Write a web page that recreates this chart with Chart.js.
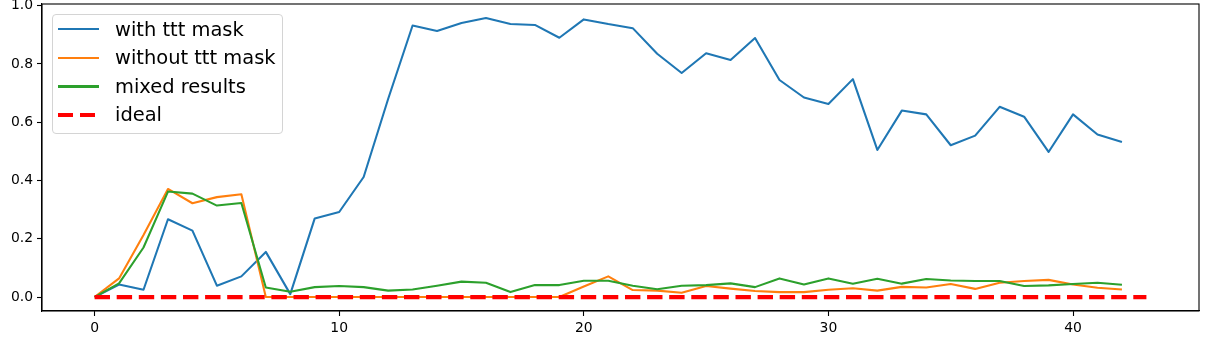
<!DOCTYPE html>
<html><head><meta charset="utf-8">
<script src="https://cdn.jsdelivr.net/npm/chart.js@4/dist/chart.umd.min.js"></script>
<style>
body{margin:0;background:#fff;}
#wrap{position:relative;width:1208px;height:345px;overflow:hidden;}
#c{position:absolute;left:0;top:0;}
#legend{position:absolute;left:52px;top:14px;width:231px;height:120px;border:1px solid #d4d4d4;border-radius:4px;background:rgba(255,255,255,0.8);box-sizing:border-box;}
.sw{position:absolute;left:58px;width:41px;}
.lab{position:absolute;left:115px;font-family:"DejaVu Sans";font-size:19.44px;line-height:19.44px;color:#000;white-space:nowrap;}
</style></head>
<body>
<div id="wrap"><canvas id="c" width="1208" height="345"></canvas><div id="legend"></div></div>
<script>
const steps = [0,1,2,3,4,5,6,7,8,9,10,11,12,13,14,15,16,17,18,19,20,21,22,23,24,25,26,27,28,29,30,31,32,33,34,35,36,37,38,39,40,41,42];
const idealSteps = [0,1,2,3,4,5,6,7,8,9,10,11,12,13,14,15,16,17,18,19,20,21,22,23,24,25,26,27,28,29,30,31,32,33,34,35,36,37,38,39,40,41,42,43];
const withMask = [0,0.043,0.025,0.267,0.228,0.039,0.071,0.155,0.010,0.270,0.292,0.412,0.68,0.932,0.913,0.941,0.958,0.937,0.934,0.890,0.953,0.937,0.923,0.835,0.769,0.837,0.814,0.889,0.745,0.685,0.663,0.748,0.505,0.640,0.627,0.521,0.554,0.653,0.619,0.498,0.627,0.558,0.532];
const withoutMask = [0,0.064,0.213,0.371,0.322,0.343,0.353,0,0,0,0,0,0,0,0,0,0,0,0,0,0.036,0.071,0.024,0.022,0.015,0.038,0.029,0.021,0.017,0.017,0.025,0.030,0.022,0.035,0.033,0.045,0.028,0.049,0.055,0.059,0.043,0.032,0.026];
const mixed = [0,0.047,0.170,0.362,0.355,0.314,0.323,0.033,0.018,0.034,0.038,0.034,0.022,0.026,0.039,0.053,0.049,0.017,0.041,0.041,0.056,0.056,0.039,0.027,0.039,0.041,0.047,0.034,0.064,0.043,0.064,0.046,0.063,0.046,0.062,0.057,0.055,0.055,0.038,0.040,0.045,0.049,0.042];
const ideal = [0,0,0,0,0,0,0,0,0,0,0,0,0,0,0,0,0,0,0,0,0,0,0,0,0,0,0,0,0,0,0,0,0,0,0,0,0,0,0,0,0,0,0,0];
const xTicks = [0,10,20,30,40];
const yTicks = [0.0,0.2,0.4,0.6,0.8,1.0];
const seriesNames = ['with ttt mask','without ttt mask','mixed results','ideal'];

const colors = ['#1f77b4','#ff7f0e','#2ca02c','#ff0000'];
const pts = (xs, ys) => xs.map((x,i)=>({x:x, y:ys[i]}));
const tickFont = {family:'DejaVu Sans', size:13.9};

const frame = {
  id:'frame',
  afterDraw(chart){
    const a = chart.chartArea, ctx = chart.ctx;
    ctx.save(); ctx.strokeStyle='#000'; ctx.lineWidth=1.1;
    ctx.strokeRect(a.left, a.top, a.right-a.left, a.bottom-a.top);
    ctx.restore();
  }
};

new Chart(document.getElementById('c'), {
  type:'line',
  data:{datasets:[
    {label:seriesNames[0], data:pts(steps,withMask), borderColor:colors[0], borderWidth:2.08, order:3},
    {label:seriesNames[1], data:pts(steps,withoutMask), borderColor:colors[1], borderWidth:2.08, order:2},
    {label:seriesNames[2], data:pts(steps,mixed), borderColor:colors[2], borderWidth:2.08, order:1},
    {label:seriesNames[3], data:pts(idealSteps,ideal), borderColor:colors[3], borderWidth:4.17, borderDash:[15.4,6.7], borderCapStyle:'butt', order:0}
  ]},
  options:{
    responsive:false, animation:false, devicePixelRatio:1, events:[],
    layout:{padding:{left:0,right:9,top:4,bottom:0}},
    elements:{point:{radius:0}, line:{tension:0, fill:false, borderJoinStyle:'round'}},
    plugins:{legend:{display:false}, tooltip:{enabled:false}},
    scales:{
      x:{type:'linear', min:-2.15, max:45.15,
        afterBuildTicks:s=>{ s.ticks = xTicks.map(v=>({value:v})); },
        ticks:{font:tickFont, color:'#000', padding:4, maxRotation:0, autoSkip:false, callback:v=>String(v)},
        grid:{display:true, drawOnChartArea:false, drawTicks:true, tickLength:5, tickWidth:1.1, tickColor:'#000'},
        border:{display:true, color:'#000', width:1.1},
        afterFit:s=>{ s.height = 34; s.paddingLeft = 0; s.paddingRight = 0; }
      },
      y:{type:'linear', min:-0.0479, max:1.0059,
        afterBuildTicks:s=>{ s.ticks = yTicks.map(v=>({value:v})); },
        ticks:{font:tickFont, color:'#000', padding:4, autoSkip:false, callback:v=>Number(v).toFixed(1)},
        grid:{display:true, drawOnChartArea:false, drawTicks:true, tickLength:5, tickWidth:1.1, tickColor:'#000'},
        border:{display:true, color:'#000', width:1.1},
        afterFit:s=>{ s.width = 42; s.paddingTop = 0; s.paddingBottom = 0; }
      }
    }
  },
  plugins:[frame]
});

// legend
const lg = document.getElementById('legend');
const wrap = document.getElementById('wrap');
const rowY = [29.3, 57.9, 86.5, 115.1];
seriesNames.forEach((name,i)=>{
  const sw = document.createElement('div');
  sw.className='sw';
  if(i===3){
    sw.style.height='4.17px';
    sw.style.top=(rowY[i]-2.08)+'px';
    sw.style.background='repeating-linear-gradient(to right,'+colors[3]+' 0 15.4px, transparent 15.4px 22.1px)';
  } else {
    sw.style.height='2.08px';
    sw.style.top=(rowY[i]-1.04)+'px';
    sw.style.background=colors[i];
  }
  wrap.appendChild(sw);
  const lab = document.createElement('div');
  lab.className='lab';
  lab.textContent=name;
  lab.style.top=(rowY[i]+6.7-16.45)+'px';
  wrap.appendChild(lab);
});
</script>
</body></html>
